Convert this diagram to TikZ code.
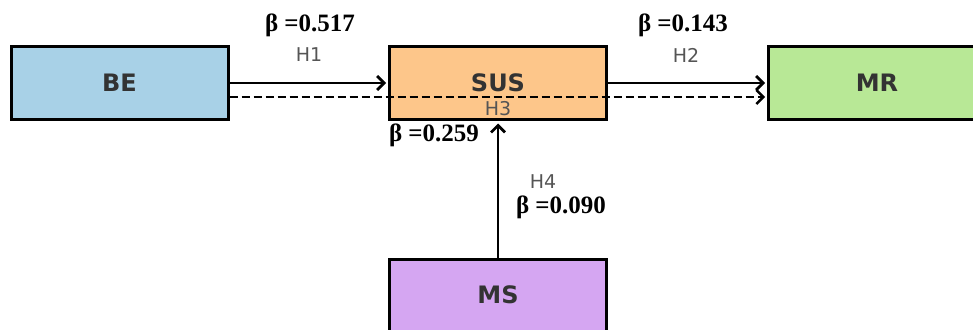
\documentclass[tikz,border=0pt]{standalone}
\usepackage{fontspec}
\setmainfont{Liberation Serif}
\newfontfamily\boxfont{DejaVu Sans}
\usetikzlibrary{arrows.meta}
\definecolor{beblue}{HTML}{A8D1E7}
\definecolor{susorange}{HTML}{FDC68A}
\definecolor{mrgreen}{HTML}{B8E896}
\definecolor{mspurple}{HTML}{D5A6F2}
\definecolor{txtdark}{HTML}{333333}
\definecolor{hgray}{HTML}{555555}
\tikzset{
  varbox/.style={draw=black, line width=3pt, minimum width=217pt, minimum height=72pt, inner sep=0pt,
    font=\boxfont\bfseries\fontsize{24}{24}\selectfont, text=txtdark},
  conn/.style={line width=2.8pt, -{Straight Barb[length=7pt,width=14pt,line width=2.8pt]}},
  dconn/.style={line width=2.4pt, dash pattern=on 8pt off 4pt, -{Straight Barb[length=7pt,width=14pt,line width=2.4pt]}},
  beta/.style={font=\bfseries\fontsize{25}{25}\selectfont, text=black, inner sep=0pt},
  hyp/.style={font=\boxfont\fontsize{19}{19}\selectfont, text=hgray, inner sep=0pt}
}
\begin{document}
\begin{tikzpicture}[x=1pt,y=-1pt]
\useasboundingbox (0,0) rectangle (973,329);
\clip (0,0) rectangle (973,329);
\node[varbox, fill=beblue] (be) at (119.5,83) {BE};
\node[varbox, fill=susorange] (sus) at (498,83) {SUS};
\node[varbox, fill=mrgreen] (mr) at (877,83) {MR};
\node[varbox, fill=mspurple] (ms) at (498,295) {MS};
% solid paths
\draw[conn] (be.east) -- ([xshift=-2pt]sus.west);
\draw[conn] (sus.east) -- ([xshift=-2pt]mr.west);
% dashed BE -> MR
\coordinate (dstart) at ([yshift=-14pt]be.east);
\coordinate (dend) at ([yshift=-14pt,xshift=-2pt]mr.west);
\draw[dconn] (dstart) -- (dend);
% MS -> SUS
\draw[conn] (ms.north) -- ([yshift=-3pt]sus.south);
% labels
\node[beta] (b1) at (310,25) {β =0.517};
\node[hyp] (h1) at (309,55) {H1};
\node[beta] (b2) at (683,25) {β =0.143};
\node[hyp] (h2) at (686,55) {H2};
\node[hyp] (h3) at (498,109) {H3};
\node[beta] (b3) at (434,135) {β =0.259};
\node[hyp] (h4) at (543,182) {H4};
\node[beta] (b4) at (561,207) {β =0.090};
\end{tikzpicture}
\end{document}
